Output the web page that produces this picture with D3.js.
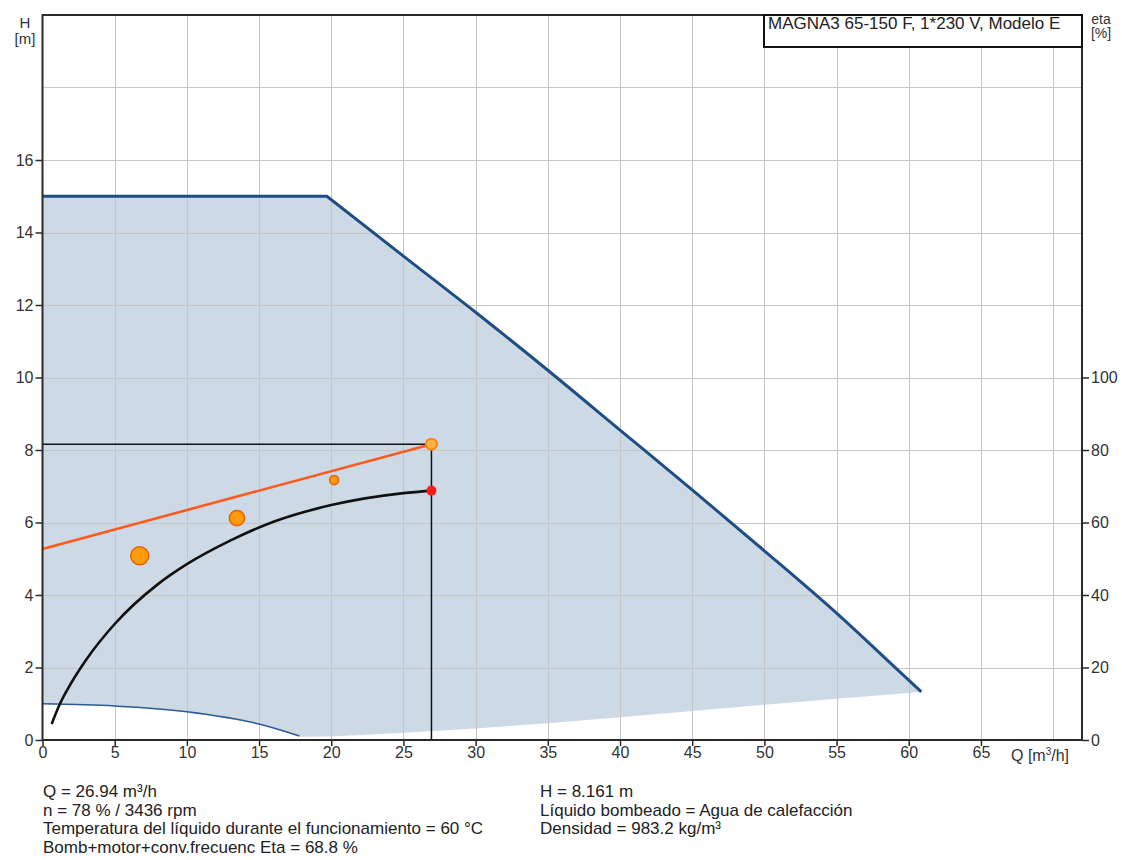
<!DOCTYPE html>
<html>
<head>
<meta charset="utf-8">
<script src="https://cdn.jsdelivr.net/npm/d3@7"></script>
<style>
  html, body { margin: 0; padding: 0; background: #fff; }
  svg { display: block; font-family: "Liberation Sans", Arial, sans-serif; }
</style>
</head>
<body>
<svg id="chart" width="1122" height="860"></svg>
<script>
// Pump operating range: maximum curve (Q [m³/h], H [m])
const maxCurveQ = [0, 19.7, 25, 30, 35, 40, 45, 50, 55, 60, 60.87];
const maxCurveH = [15, 15, 13.35, 11.8, 10.2, 8.55, 6.9, 5.22, 3.5, 1.65, 1.33];

// Minimum curve at low flow
const minCurveQ = [0, 5, 10, 15, 17.8];
const minCurveH = [1.0, 0.94, 0.78, 0.44, 0.11];

// Lower edge of the operating range beyond the minimum curve
const lowerEdgeQ = [17.8, 20, 25, 30, 35, 40, 45, 50, 55, 60, 60.87];
const lowerEdgeH = [0.09, 0.1, 0.2, 0.32, 0.46, 0.63, 0.8, 0.97, 1.14, 1.3, 1.33];

// Efficiency curve (eta, %) pump+motor+frequency converter
const etaQ = [0.66, 1.21, 2, 3, 5, 8, 10, 13, 16, 20, 25, 26.94];
const etaV = [4.7, 10, 15.8, 22, 32, 43, 48.5, 55, 60.2, 64.8, 68.1, 68.8];

// Control curve through the duty point
const controlQ = [0, 26.94];
const controlH = [5.27, 8.161];

// Load profile points (flow, head, share of time %)
const loadQ = [6.735, 13.47, 20.2];
const loadH = [5.08, 6.12, 7.17];
const loadTime = [44, 35, 15];

// Duty point
const dutyQ = 26.94;
const dutyH = 8.161;
const dutyEta = 68.8;

// Axis ticks
const hTicks = [0, 2, 4, 6, 8, 10, 12, 14, 16];
const hGrid = [2, 4, 6, 8, 10, 12, 14, 16, 18];
const qTicks = [0, 5, 10, 15, 20, 25, 30, 35, 40, 45, 50, 55, 60, 65];
const qGrid = [5, 10, 15, 20, 25, 30, 35, 40, 45, 50, 55, 60, 65, 70];
const etaTicks = [0, 20, 40, 60, 80, 100];

const titleText = "MAGNA3 65-150 F, 1*230 V, Modelo E";
const infoLeft = [
  "Q = 26.94 m³/h",
  "n = 78 % / 3436 rpm",
  "Temperatura del líquido durante el funcionamiento = 60 °C",
  "Bomb+motor+conv.frecuenc Eta = 68.8 %"
];
const infoRight = [
  "H = 8.161 m",
  "Líquido bombeado = Agua de calefacción",
  "Densidad = 983.2 kg/m³"
];

const svg = d3.select("#chart");

const x = d3.scaleLinear().domain([0, 72]).range([42.5, 1082]);
const y = d3.scaleLinear().domain([0, 20]).range([740, 15]);
// eta shares the plot height: 100 % sits at H = 10 m
const yEta = d3.scaleLinear().domain([0, 200]).range([740, 15]);

const zip = (qs, hs) => qs.map((q, i) => [q, hs[i]]);

const smooth = d3.line().x(d => x(d[0])).y(d => y(d[1])).curve(d3.curveMonotoneX);
const straight = d3.line().x(d => x(d[0])).y(d => y(d[1]));

const upper = zip(maxCurveQ, maxCurveH);
const lowerRight = zip(lowerEdgeQ, lowerEdgeH);
const minPts = zip(minCurveQ, minCurveH);

// Operating range fill, boundary walked clockwise
const boundary = []
  .concat(upper)
  .concat(lowerRight.slice().reverse())
  .concat(minPts.slice().reverse());
svg.append("path")
  .attr("d", straight(boundary) + "Z")
  .attr("fill", "#cdd9e5");

// Grid
const grid = svg.append("g").attr("stroke", "#c6c6c6").attr("stroke-width", 1);
grid.selectAll("line.v").data(qGrid).join("line")
  .attr("x1", d => Math.round(x(d)) + 0.5).attr("x2", d => Math.round(x(d)) + 0.5)
  .attr("y1", y(20)).attr("y2", y(0));
grid.selectAll("line.h").data(hGrid).join("line")
  .attr("x1", x(0)).attr("x2", x(72))
  .attr("y1", d => Math.round(y(d)) + 0.5).attr("y2", d => Math.round(y(d)) + 0.5);

// Maximum and minimum curves
const upperPath = straight(upper.slice(0, 2)) + smooth(upper.slice(1)).replace(/^M/, "L");
svg.append("path").attr("d", upperPath)
  .attr("fill", "none").attr("stroke", "#1f4e86").attr("stroke-width", 3).attr("stroke-linejoin", "round");
svg.append("path").attr("d", smooth(minPts))
  .attr("fill", "none").attr("stroke", "#2c5c93").attr("stroke-width", 1.6);

// Duty point guides
svg.append("path")
  .attr("d", straight([[0, dutyH], [dutyQ, dutyH], [dutyQ, 0]]))
  .attr("fill", "none").attr("stroke", "#111").attr("stroke-width", 1.5);

// Control curve
svg.append("path").attr("d", straight(zip(controlQ, controlH)))
  .attr("fill", "none").attr("stroke", "#ff5a1e").attr("stroke-width", 2.6);

// Efficiency curve
svg.append("path")
  .attr("d", d3.line().x(d => x(d[0])).y(d => yEta(d[1])).curve(d3.curveMonotoneX)(zip(etaQ, etaV)))
  .attr("fill", "none").attr("stroke", "#111").attr("stroke-width", 2.6).attr("stroke-linecap", "round");

// Load profile points
const r = d3.scaleLinear().domain([15, 44]).range([4.6, 9]);
svg.selectAll("circle.load").data(loadQ.map((q, i) => ({ q, h: loadH[i], t: loadTime[i] })))
  .join("circle")
  .attr("cx", d => x(d.q)).attr("cy", d => y(d.h)).attr("r", d => r(d.t))
  .attr("fill", "#ff9a0a").attr("stroke", "#e2620a").attr("stroke-width", 1.5);

// Duty point marks
svg.append("circle").attr("cx", x(dutyQ)).attr("cy", y(dutyH)).attr("r", 5.5)
  .attr("fill", "#ffb347").attr("stroke", "#f08a10").attr("stroke-width", 2);
svg.append("circle").attr("cx", x(dutyQ)).attr("cy", yEta(dutyEta)).attr("r", 5)
  .attr("fill", "#ff1a1a");

// Frame
svg.append("rect")
  .attr("x", x(0)).attr("y", y(20)).attr("width", x(72) - x(0)).attr("height", y(0) - y(20))
  .attr("fill", "none").attr("stroke", "#2a2a2a").attr("stroke-width", 2);

const tickFont = "Liberation Sans, Arial, sans-serif";

// Left axis
const left = svg.append("g").attr("transform", `translate(${x(0)},0)`)
  .call(d3.axisLeft(y).tickValues(hTicks).tickSize(7).tickPadding(2).tickFormat(d3.format("d")));
left.select(".domain").remove();
left.selectAll(".tick line").attr("stroke", "#2a2a2a").attr("stroke-width", 1.5);
left.selectAll(".tick text").attr("font-size", 16).attr("fill", "#333").attr("font-family", tickFont);

// Bottom axis
const bottom = svg.append("g").attr("transform", `translate(0,${y(0)})`)
  .call(d3.axisBottom(x).tickValues(qTicks).tickSize(6).tickPadding(2).tickFormat(d3.format("d")));
bottom.select(".domain").remove();
bottom.selectAll(".tick line").attr("stroke", "#2a2a2a").attr("stroke-width", 1.5);
bottom.selectAll(".tick text").attr("font-size", 16).attr("fill", "#333").attr("dy", "0.65em").attr("font-family", tickFont);

// Right axis (eta)
const right = svg.append("g").attr("transform", `translate(${x(72)},0)`)
  .call(d3.axisRight(yEta).tickValues(etaTicks).tickSize(7).tickPadding(2).tickFormat(d3.format("d")));
right.select(".domain").remove();
right.selectAll(".tick line").attr("stroke", "#2a2a2a").attr("stroke-width", 1.5);
right.selectAll(".tick text").attr("font-size", 16).attr("fill", "#333").attr("font-family", tickFont);

// Axis titles
svg.append("text").attr("x", 25).attr("y", 28).attr("text-anchor", "middle")
  .attr("font-size", 15).attr("fill", "#333").text("H");
svg.append("text").attr("x", 25).attr("y", 44).attr("text-anchor", "middle")
  .attr("font-size", 15).attr("fill", "#333").text("[m]");
svg.append("text").attr("x", 1101).attr("y", 24).attr("text-anchor", "middle")
  .attr("font-size", 14).attr("fill", "#333").text("eta");
svg.append("text").attr("x", 1101).attr("y", 38).attr("text-anchor", "middle")
  .attr("font-size", 14).attr("fill", "#333").text("[%]");
svg.append("text").attr("x", 1011).attr("y", 761)
  .attr("font-size", 16).attr("fill", "#333").html("Q [m<tspan dy='-6' font-size='10'>3</tspan><tspan dy='6'>/h]</tspan>");

// Title box
svg.append("rect").attr("x", 764).attr("y", y(20)).attr("width", x(72) - 764).attr("height", 32)
  .attr("fill", "#fff").attr("stroke", "#111").attr("stroke-width", 2);
svg.append("text").attr("x", 768).attr("y", 29).attr("font-size", 17).attr("fill", "#222").text(titleText);

// Info text
svg.append("g").selectAll("text").data(infoLeft).join("text")
  .attr("x", 43).attr("y", (d, i) => 797 + i * 18.5)
  .attr("font-size", 17).attr("fill", "#222").text(d => d);
svg.append("g").selectAll("text").data(infoRight).join("text")
  .attr("x", 540).attr("y", (d, i) => 797 + i * 18.5)
  .attr("font-size", 17).attr("fill", "#222").text(d => d);
</script>
</body>
</html>
